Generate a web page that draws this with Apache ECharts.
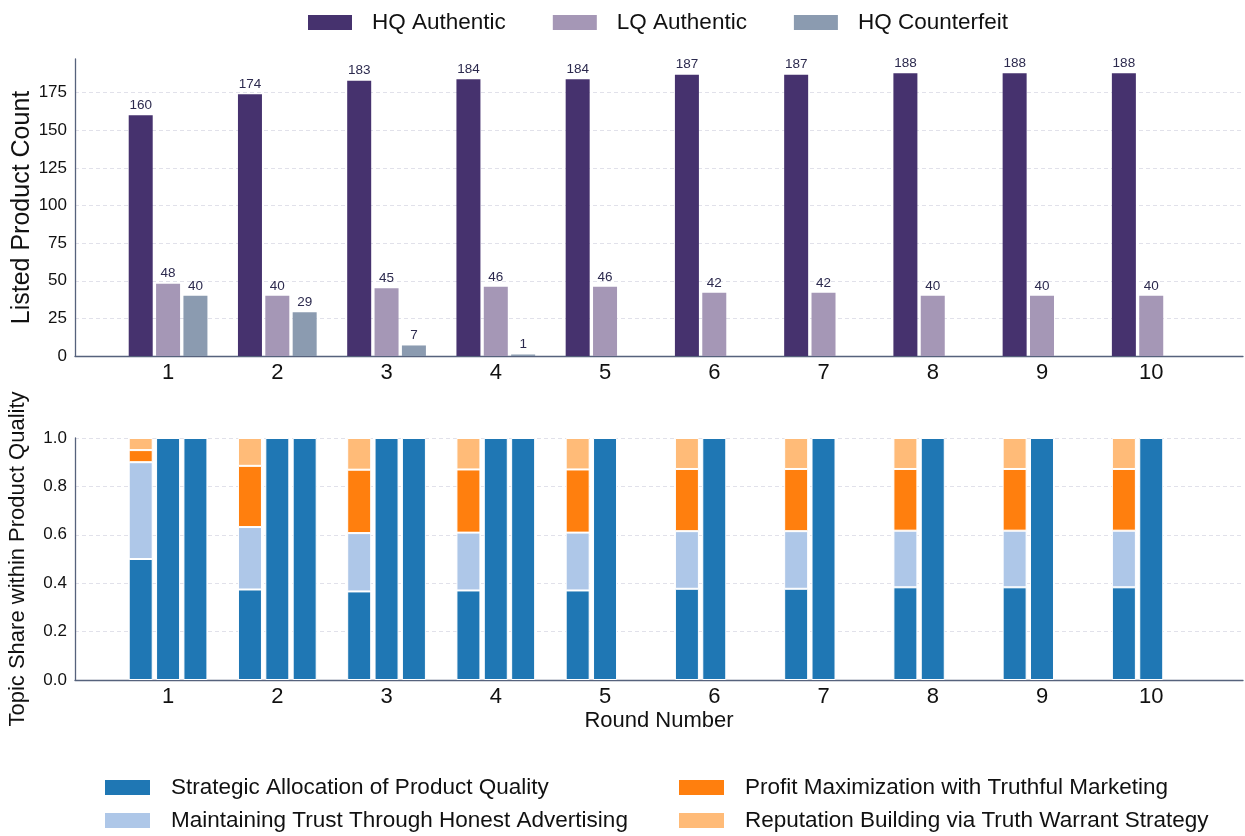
<!DOCTYPE html>
<html>
<head>
<meta charset="utf-8">
<script src="https://cdn.jsdelivr.net/npm/echarts@6/dist/echarts.min.js"></script>
<style>html,body{margin:0;padding:0;background:#fff;}#c{width:1245px;height:836px;}</style>
</head>
<body>
<div id="c"></div>
<script>
// ---- data ----
const rounds = [1, 2, 3, 4, 5, 6, 7, 8, 9, 10];
const hqAuthentic = [160, 174, 183, 184, 184, 187, 187, 188, 188, 188];
const lqAuthentic = [48, 40, 45, 46, 46, 42, 42, 40, 40, 40];
const hqCounterfeit = [40, 29, 7, 1, 0, 0, 0, 0, 0, 0];

const topicStrategic = [0.500, 0.374, 0.366, 0.370, 0.370, 0.377, 0.377, 0.383, 0.383, 0.383];
const topicTrust = [0.400, 0.258, 0.241, 0.239, 0.239, 0.238, 0.238, 0.234, 0.234, 0.234];
const topicProfit = [0.050, 0.253, 0.262, 0.261, 0.261, 0.257, 0.257, 0.255, 0.255, 0.255];
const topicReputation = [0.050, 0.115, 0.131, 0.130, 0.130, 0.128, 0.128, 0.128, 0.128, 0.128];
const lqStrategicShare = [1, 1, 1, 1, 1, 1, 1, 1, 1, 1];
const cfStrategicShare = [1, 1, 1, 1, null, null, null, null, null, null];

const topicNames = [
  'Strategic Allocation of Product Quality',
  'Maintaining Trust Through Honest Advertising',
  'Profit Maximization with Truthful Marketing',
  'Reputation Building via Truth Warrant Strategy'
];
const yTicksTop = [0, 25, 50, 75, 100, 125, 150, 175];

// ---- styles ----
const FONT = '"Liberation Sans", Arial, sans-serif';
const AXIS_COLOR = '#56627c';
const C_HQ = '#46326e', C_LQ = '#a597b6', C_CF = '#8b9bb0';
const C_T = ['#1f77b4', '#aec7e8', '#ff7f0e', '#ffbb78'];

// rows as [value, round] so the stacked dimension is the value dimension
const rows = arr => rounds.map((r, i) => [arr[i], r]);

const xAxisBase = (gi) => ({
  type: 'value', gridIndex: gi, min: 0.148, max: 10.84,
  axisLine: { show: true, onZero: false, lineStyle: { color: AXIS_COLOR, width: 1.3 } },
  axisTick: { show: false },
  splitLine: { show: false },
  axisLabel: { customValues: rounds, fontSize: 22, color: '#111', fontFamily: FONT, margin: 6 }
});

const chart = echarts.init(document.getElementById('c'), null, { renderer: 'canvas' });

const labelTop = {
  show: true, position: 'top', distance: 3, fontSize: 13.5, color: '#2c2a4e', fontFamily: FONT,
  formatter: p => (p.value[0] === 0 ? '' : p.value[0])
};

const topBar = (name, arr, color) => ({
  type: 'bar', name, xAxisIndex: 0, yAxisIndex: 0, data: rows(arr),
  encode: { x: 1, y: 0 },
  barWidth: 24, barGap: '14%',
  itemStyle: { color, borderWidth: 0 },
  label: labelTop
});

const botBar = (name, arr, color, stack) => ({
  type: 'bar', name, xAxisIndex: 1, yAxisIndex: 1, data: rows(arr), stack,
  encode: { x: 1, y: 0 },
  barWidth: 24, barGap: '14%',
  itemStyle: { color, borderColor: '#ffffff', borderWidth: 1 }
});

const legendText = { fontSize: 22.5, color: '#111', fontFamily: FONT };
const botLegend = (name, left, top) => ({
  data: [name], left, top, itemWidth: 47, itemHeight: 17, icon: 'rect',
  textStyle: Object.assign({ padding: [0, 0, 0, 15] }, legendText)
});

const option = {
  backgroundColor: '#ffffff',
  animation: false,
  textStyle: { fontFamily: FONT },
  grid: [
    { left: 75, right: 2, top: 59, height: 297, containLabel: false, outerBoundsMode: 'none' },
    { left: 75, right: 2, top: 438, height: 242, containLabel: false, outerBoundsMode: 'none' }
  ],
  legend: [
    {
      data: ['HQ Authentic', 'LQ Authentic', 'HQ Counterfeit'],
      left: 303, top: 6, itemWidth: 44, itemHeight: 15, itemGap: 47,
      icon: 'rect',
      textStyle: Object.assign({ padding: [0, 0, 0, 15] }, legendText)
    },
    botLegend(topicNames[0], 98, 771),
    botLegend(topicNames[1], 98, 804),
    botLegend(topicNames[2], 672, 771),
    botLegend(topicNames[3], 672, 804)
  ],
  xAxis: [
    xAxisBase(0),
    Object.assign(xAxisBase(1), {
      name: 'Round Number', nameLocation: 'middle', nameGap: 30,
      nameTextStyle: { fontSize: 22, color: '#111', fontFamily: FONT }
    })
  ],
  yAxis: [
    {
      type: 'value', gridIndex: 0, min: 0, max: 197.4, interval: 25,
      name: 'Listed Product Count', nameLocation: 'middle', nameGap: 40, nameMoveOverlap: false,
      nameTextStyle: { fontSize: 25, color: '#111', fontFamily: FONT },
      axisLine: { show: true, lineStyle: { color: AXIS_COLOR, width: 1.3 } },
      axisTick: { show: false },
      axisLabel: { customValues: yTicksTop, fontSize: 17, color: '#111', fontFamily: FONT, margin: 8 },
      splitLine: { show: true, showMaxLine: false, lineStyle: { color: '#e1e1ea', type: [4, 3], width: 1 } }
    },
    {
      type: 'value', gridIndex: 1, min: 0, max: 1, interval: 0.2,
      name: 'Topic Share within Product Quality', nameLocation: 'middle', nameGap: 46, nameMoveOverlap: false,
      nameTextStyle: { fontSize: 22, color: '#111', fontFamily: FONT },
      axisLine: { show: true, lineStyle: { color: AXIS_COLOR, width: 1.3 } },
      axisTick: { show: false },
      axisLabel: { fontSize: 17, color: '#111', fontFamily: FONT, margin: 8, formatter: v => v.toFixed(1) },
      splitLine: { show: true, lineStyle: { color: '#e1e1ea', type: [4, 3], width: 1 } }
    }
  ],
  series: [
    topBar('HQ Authentic', hqAuthentic, C_HQ),
    topBar('LQ Authentic', lqAuthentic, C_LQ),
    topBar('HQ Counterfeit', hqCounterfeit, C_CF),
    botBar(topicNames[0], topicStrategic, C_T[0], 'hq'),
    botBar(topicNames[1], topicTrust, C_T[1], 'hq'),
    botBar(topicNames[2], topicProfit, C_T[2], 'hq'),
    botBar(topicNames[3], topicReputation, C_T[3], 'hq'),
    botBar(topicNames[0], lqStrategicShare, C_T[0], 'lq'),
    botBar(topicNames[0], cfStrategicShare, C_T[0], 'cf')
  ]
};
chart.setOption(option);
</script>
</body>
</html>
